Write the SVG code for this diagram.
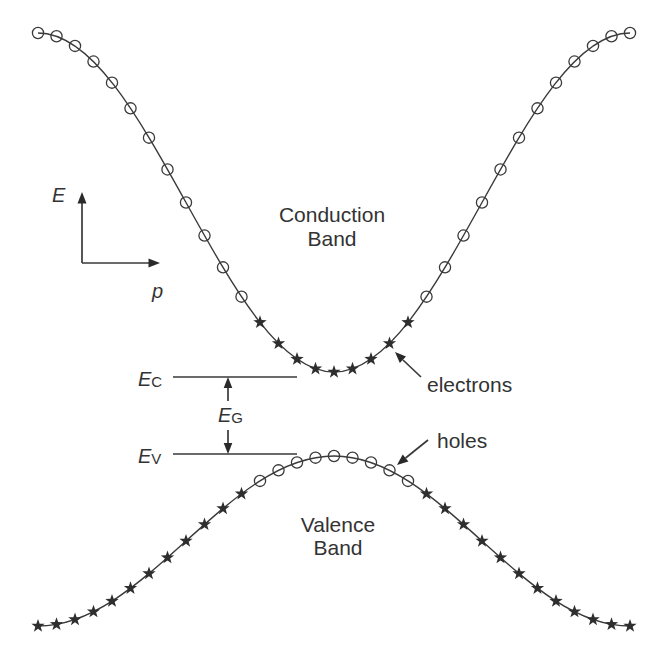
<svg xmlns="http://www.w3.org/2000/svg" xmlns:xlink="http://www.w3.org/1999/xlink" width="666" height="664" viewBox="0 0 666 664">
<style>
.curve{fill:none;stroke:#3a3a3a;stroke-width:1.4}
.ln{fill:none;stroke:#3a3a3a;stroke-width:1.7}
.hd{fill:#2a2a2a;stroke:none}
.lbl{font-family:"Liberation Sans",Arial,sans-serif;font-size:21px;fill:#333}
.sym{font-family:"Liberation Sans",Arial,sans-serif;font-size:20px;font-style:italic;fill:#333}
.sub{font-size:15px;font-style:normal}
</style>
<defs>
<circle id="c" r="5.6" fill="none" stroke="#3a3a3a" stroke-width="1.3"/>
<path id="s" d="M0,-7 L1.65,-2.27 L6.66,-2.16 L2.66,0.86 L4.11,5.66 L0,2.8 L-4.11,5.66 L-2.66,0.86 L-6.66,-2.16 L-1.65,-2.27 Z" fill="#2e2e2e"/>
</defs>
<rect width="666" height="664" fill="#fff"/>
<g id="conduction-band">
<path class="curve" d="M38,33 C91.56,33 137.73,115.67 186,202.5 C234.27,289.33 280.44,372 334,372 C387.56,372 433.73,289.33 482,202.5 C530.27,115.67 576.44,33 630,33"/>
<use href="#c" x="38" y="33"/><use href="#c" x="56.5" y="36.26"/><use href="#c" x="75" y="45.9"/><use href="#c" x="93.5" y="61.57"/><use href="#c" x="112" y="82.64"/><use href="#c" x="130.5" y="108.33"/><use href="#c" x="149" y="137.64"/><use href="#c" x="167.5" y="169.43"/><use href="#c" x="186" y="202.5"/><use href="#c" x="204.5" y="235.57"/><use href="#c" x="223" y="267.36"/><use href="#c" x="241.5" y="296.67"/>
<use href="#s" x="260" y="322.36"/><use href="#s" x="278.5" y="343.43"/><use href="#s" x="297" y="359.1"/><use href="#s" x="315.5" y="368.74"/><use href="#s" x="334" y="372"/><use href="#s" x="352.5" y="368.74"/><use href="#s" x="371" y="359.1"/><use href="#s" x="389.5" y="343.43"/><use href="#s" x="408" y="322.36"/>
<use href="#c" x="426.5" y="296.67"/><use href="#c" x="445" y="267.36"/><use href="#c" x="463.5" y="235.57"/><use href="#c" x="482" y="202.5"/><use href="#c" x="500.5" y="169.43"/><use href="#c" x="519" y="137.64"/><use href="#c" x="537.5" y="108.33"/><use href="#c" x="556" y="82.64"/><use href="#c" x="574.5" y="61.57"/><use href="#c" x="593" y="45.9"/><use href="#c" x="611.5" y="36.26"/><use href="#c" x="630" y="33"/>
</g>
<g id="valence-band">
<path class="curve" d="M38,626 C91.56,626 137.73,584.55 186,541 C234.27,497.45 280.44,456 334,456 C387.56,456 433.73,497.45 482,541 C530.27,584.55 576.44,626 630,626"/>
<use href="#s" x="38" y="626"/><use href="#s" x="56.5" y="624.37"/><use href="#s" x="75" y="619.53"/><use href="#s" x="93.5" y="611.67"/><use href="#s" x="112" y="601.1"/><use href="#s" x="130.5" y="588.22"/><use href="#s" x="149" y="573.53"/><use href="#s" x="167.5" y="557.58"/><use href="#s" x="186" y="541"/><use href="#s" x="204.5" y="524.42"/><use href="#s" x="223" y="508.47"/><use href="#s" x="241.5" y="493.78"/>
<use href="#c" x="260" y="480.9"/><use href="#c" x="278.5" y="470.33"/><use href="#c" x="297" y="462.47"/><use href="#c" x="315.5" y="457.63"/><use href="#c" x="334" y="456"/><use href="#c" x="352.5" y="457.63"/><use href="#c" x="371" y="462.47"/><use href="#c" x="389.5" y="470.33"/><use href="#c" x="408" y="480.9"/>
<use href="#s" x="426.5" y="493.78"/><use href="#s" x="445" y="508.47"/><use href="#s" x="463.5" y="524.42"/><use href="#s" x="482" y="541"/><use href="#s" x="500.5" y="557.58"/><use href="#s" x="519" y="573.53"/><use href="#s" x="537.5" y="588.22"/><use href="#s" x="556" y="601.1"/><use href="#s" x="574.5" y="611.67"/><use href="#s" x="593" y="619.53"/><use href="#s" x="611.5" y="624.37"/><use href="#s" x="630" y="626"/>
</g>
<g id="axes">
<path class="ln" d="M82,263 V202 M82,263 H150"/>
<path class="hd" d="M82,192 L86.5,203.5 L77.5,203.5 Z"/>
<path class="hd" d="M160,263 L148.5,258.5 L148.5,267.5 Z"/>
<text class="sym" x="52" y="202">E</text>
<text class="sym" x="152" y="298">p</text>
</g>
<g id="levels">
<path class="ln" d="M173,377 H297 M173,454 H297"/>
<text class="sym" x="138" y="386">E<tspan class="sub" dy="1">C</tspan></text>
<text class="sym" x="218" y="422">E<tspan class="sub" dy="1">G</tspan></text>
<text class="sym" x="138" y="463">E<tspan class="sub" dy="1">V</tspan></text>
</g>
<g id="connectors">
<path class="ln" d="M228,401 V386 M228,430 V445"/>
<path class="hd" d="M228,377 L232.3,388 L223.7,388 Z"/>
<path class="hd" d="M228,454 L232.3,443 L223.7,443 Z"/>
<path class="ln" d="M421,377 L403,360"/>
<path class="hd" d="M395,352 L406,356.4 L399.8,362.9 Z"/>
<path class="ln" d="M428,440 L405.6,458"/>
<path class="hd" d="M397,465 L408.4,461.6 L402.7,454.6 Z"/>
</g>
<g id="labels">
<text class="lbl" x="332" y="222" text-anchor="middle">Conduction</text>
<text class="lbl" x="332" y="246" text-anchor="middle">Band</text>
<text class="lbl" x="338" y="532" text-anchor="middle">Valence</text>
<text class="lbl" x="338" y="555" text-anchor="middle">Band</text>
<text class="lbl" x="427" y="392">electrons</text>
<text class="lbl" x="437" y="448">holes</text>
</g>
</svg>
